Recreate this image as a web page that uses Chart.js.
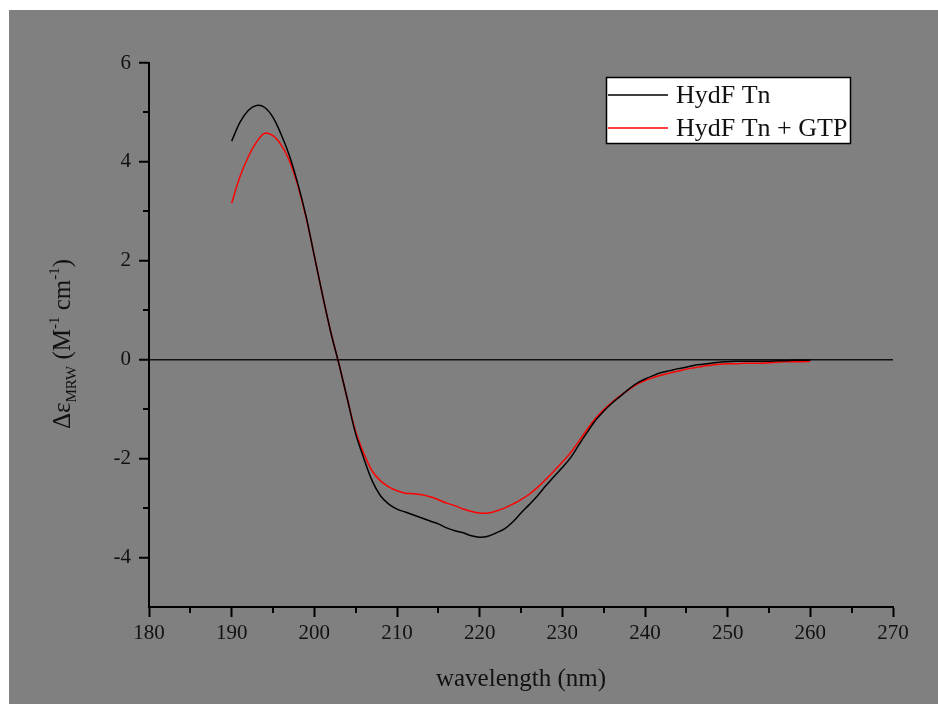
<!DOCTYPE html>
<html>
<head>
<meta charset="utf-8">
<script src="https://cdn.jsdelivr.net/npm/chart.js@4.4.1/dist/chart.umd.min.js"></script>
<style>
  html, body { margin: 0; padding: 0; background: #ffffff; }
  #wrap { position: absolute; left: 0; top: 0; width: 938px; height: 704px; }
</style>
</head>
<body>
<div id="wrap"><canvas id="c" width="938" height="704"></canvas></div>
<script>
// ---- data ----
const wavelengths = [190,191,192,193,194,195,196,197,198,199,
  200,201,202,203,204,205,206,207,208,209,
  210,211,212,213,214,215,216,217,218,219,
  220,221,222,223,224,225,226,227,228,229,
  230,231,232,233,234,235,236,237,238,239,
  240,241,242,243,244,245,246,247,248,249,
  250,251,252,253,254,255,256,257,258,259,260];
const hydfTn = [4.42,4.80,5.04,5.14,5.10,4.90,4.55,4.12,3.56,2.90,
  2.10,1.30,0.55,-0.10,-0.80,-1.50,-2.00,-2.45,-2.75,-2.92,
  -3.02,-3.08,-3.14,-3.20,-3.26,-3.32,-3.40,-3.46,-3.50,-3.56,
  -3.59,-3.57,-3.50,-3.42,-3.28,-3.10,-2.93,-2.75,-2.55,-2.36,
  -2.18,-1.98,-1.72,-1.47,-1.23,-1.04,-0.88,-0.74,-0.60,-0.48,
  -0.39,-0.32,-0.26,-0.22,-0.18,-0.15,-0.11,-0.09,-0.07,-0.05,
  -0.04,-0.03,-0.03,-0.03,-0.03,-0.03,-0.02,-0.02,-0.01,-0.01,-0.01];
const hydfTnGtp = [3.17,3.70,4.10,4.40,4.58,4.53,4.34,4.02,3.52,2.88,
  2.10,1.30,0.55,-0.10,-0.80,-1.45,-1.90,-2.25,-2.45,-2.57,
  -2.65,-2.70,-2.71,-2.73,-2.77,-2.83,-2.90,-2.95,-3.02,-3.07,
  -3.10,-3.10,-3.06,-3.00,-2.92,-2.83,-2.72,-2.58,-2.42,-2.25,
  -2.07,-1.88,-1.65,-1.41,-1.19,-1.01,-0.86,-0.73,-0.61,-0.50,
  -0.42,-0.36,-0.31,-0.27,-0.23,-0.19,-0.16,-0.13,-0.11,-0.09,
  -0.08,-0.08,-0.07,-0.07,-0.07,-0.06,-0.05,-0.04,-0.04,-0.04,-0.03];
const seriesLabels = ["HydF Tn", "HydF Tn + GTP"];
const seriesColors = ["#000000", "#ff0000"];
const xTicks = [180,190,200,210,220,230,240,250,260,270];
const xMinorTicks = [185,195,205,215,225,235,245,255,265];
const yTicks = [-4,-2,0,2,4,6];
const yMinorTicks = [-3,-1,1,3,5];
const xTitle = "wavelength (nm)";

const SERIF = "'Liberation Serif', 'DejaVu Serif', serif";

function pts(vals) { return wavelengths.map((w, i) => ({ x: w, y: vals[i] })); }

const bgPlugin = {
  id: 'bg',
  beforeDraw(chart) {
    const ctx = chart.ctx;
    ctx.save();
    ctx.fillStyle = '#808080';
    ctx.fillRect(9, 10, chart.width - 9, chart.height - 10);
    ctx.restore();
  }
};

const minorPlugin = {
  id: 'minor',
  afterDraw(chart) {
    const ctx = chart.ctx;
    const xs = chart.scales.x, ys = chart.scales.y;
    const area = chart.chartArea;
    ctx.save();
    ctx.strokeStyle = '#000';
    ctx.lineWidth = 2;
    ctx.beginPath();
    xMinorTicks.forEach(v => {
      const px = Math.round(xs.getPixelForValue(v));
      ctx.moveTo(px, area.bottom);
      ctx.lineTo(px, area.bottom + 6);
    });
    yMinorTicks.forEach(v => {
      const py = Math.round(ys.getPixelForValue(v));
      ctx.moveTo(area.left, py);
      ctx.lineTo(area.left - 6, py);
    });
    ctx.stroke();
    ctx.restore();
  }
};

const yTitlePlugin = {
  id: 'ytitle',
  afterDraw(chart) {
    const ctx = chart.ctx;
    const big = 25, small = 15;
    const parts = [
      { t: "\u0394\u03b5", s: big, dy: 0 },
      { t: "MRW", s: small, dy: 6 },
      { t: " (M", s: big, dy: 0 },
      { t: "-1", s: small, dy: -11 },
      { t: " cm", s: big, dy: 0 },
      { t: "-1", s: small, dy: -11 },
      { t: ")", s: big, dy: 0 }
    ];
    ctx.save();
    let total = 0;
    parts.forEach(p => { ctx.font = p.s + "px " + SERIF; p.w = ctx.measureText(p.t).width; total += p.w; });
    const cy = 344;
    ctx.translate(70, cy);
    ctx.rotate(-Math.PI / 2);
    ctx.fillStyle = '#111';
    ctx.textBaseline = 'alphabetic';
    let x = -total / 2;
    parts.forEach(p => {
      ctx.font = p.s + "px " + SERIF;
      ctx.fillText(p.t, x, p.dy);
      x += p.w;
    });
    ctx.restore();
  }
};

const legendPlugin = {
  id: 'customLegend',
  afterDraw(chart) {
    const ctx = chart.ctx;
    ctx.save();
    const bx = 606, by = 77, bw = 244, bh = 66;
    ctx.fillStyle = '#ffffff';
    ctx.fillRect(bx, by, bw, bh);
    ctx.strokeStyle = '#000';
    ctx.lineWidth = 1.5;
    ctx.strokeRect(bx + 0.5, by + 0.5, bw, bh);
    const rows = [95, 128];
    chart.data.datasets.forEach((ds, i) => {
      const y = rows[i];
      ctx.strokeStyle = ds.borderColor;
      ctx.lineWidth = 1.5;
      ctx.beginPath();
      ctx.moveTo(608, y);
      ctx.lineTo(668, y);
      ctx.stroke();
      ctx.fillStyle = '#111';
      ctx.font = "26px " + SERIF;
      ctx.textBaseline = 'alphabetic';
      ctx.fillText(ds.label, 676, y + 8);
    });
    ctx.restore();
  }
};

new Chart(document.getElementById('c'), {
  type: 'scatter',
  data: {
    datasets: [
      { label: seriesLabels[0], data: pts(hydfTn), showLine: true, borderColor: seriesColors[0],
        backgroundColor: seriesColors[0], borderWidth: 1.5, pointRadius: 0, tension: 0.35 },
      { label: seriesLabels[1], data: pts(hydfTnGtp), showLine: true, borderColor: seriesColors[1],
        backgroundColor: seriesColors[1], borderWidth: 1.5, pointRadius: 0, tension: 0.35 }
    ]
  },
  options: {
    responsive: false,
    animation: false,
    layout: { padding: { top: 63, right: 45, left: 0, bottom: 0 } },
    plugins: { legend: { display: false }, tooltip: { enabled: false }, title: { display: false } },
    scales: {
      x: {
        type: 'linear', min: 180, max: 270,
        afterBuildTicks: s => { s.ticks = xTicks.map(v => ({ value: v })); },
        afterFit: s => { s.height = 97; },
        border: { display: true, color: '#000', width: 2 },
        grid: { drawOnChartArea: false, drawTicks: true, tickLength: 10, tickColor: '#000', tickWidth: 2 },
        ticks: { autoSkip: false, maxRotation: 0, color: '#111', padding: 4,
          font: { family: SERIF, size: 21 } },
        title: { display: true, text: xTitle, color: '#111', padding: { top: 8, bottom: 10 },
          font: { family: SERIF, size: 25 } }
      },
      y: {
        type: 'linear', min: -5, max: 6,
        afterBuildTicks: s => { s.ticks = yTicks.map(v => ({ value: v })); },
        afterFit: s => { s.width = 149; },
        border: { display: true, color: '#000', width: 2 },
        grid: {
          drawOnChartArea: true, drawTicks: true, tickLength: 10, tickColor: '#000', tickWidth: 2,
          color: c => (c.tick && c.tick.value === 0) ? '#111' : 'rgba(0,0,0,0)', lineWidth: 1.5
        },
        ticks: { autoSkip: false, color: '#111', padding: 8, font: { family: SERIF, size: 21 } }
      }
    }
  },
  plugins: [bgPlugin, minorPlugin, yTitlePlugin, legendPlugin]
});
</script>
</body>
</html>
